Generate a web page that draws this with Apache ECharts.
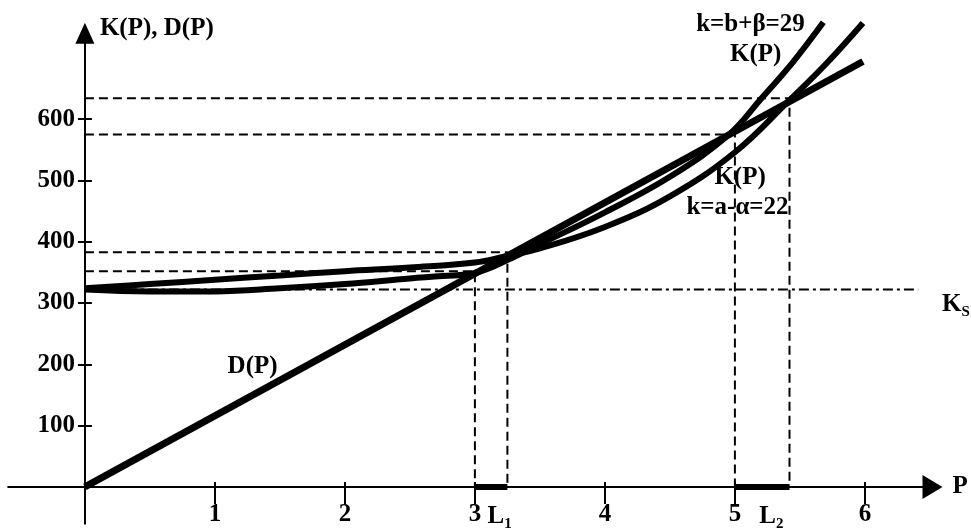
<!DOCTYPE html>
<html>
<head>
<meta charset="utf-8">
<title>K(P), D(P)</title>
<script src="https://cdn.jsdelivr.net/npm/echarts@6.0.0/dist/echarts.min.js"></script>
<style>
  html, body { margin: 0; padding: 0; background: #fff; }
  #chart { width: 971px; height: 529px; }
</style>
</head>
<body>
<div id="chart"></div>
<script>
// ---- data ----
var kTicks = [100, 200, 300, 400, 500, 600];
var pTicks = [1, 2, 3, 4, 5, 6];
var pLabels = [1, 2, 3, 3.19, 4, 5, 5.28, 6];
var subLabels = { '3.19': '1', '5.28': '2' };

// D(P) - straight line from the origin
var dLine = [[0, 0], [5.985, 694]];
// K(P), k=b+beta=29
var k29 = [[0, 322], [0.5, 319], [1.0, 319], [1.5, 324], [2.0, 331], [2.5, 340], [2.75, 344], [3.0, 349],
  [3.25, 370], [3.5, 396], [4.0, 448], [4.5, 506], [4.95, 574], [5.2, 633], [5.45, 694], [5.68, 758]];
// K(P), k=a-alpha=22
var k22 = [[0, 324], [0.5, 331], [1.0, 338], [1.5, 345], [2.0, 352], [2.5, 358], [3.0, 366], [3.25, 377],
  [3.5, 389], [4.0, 424], [4.5, 474], [5.0, 546], [5.42, 631], [5.7, 690], [5.985, 757]];
// Ks level
var ksLine = [[0, 322], [6.41, 322]];
// dashed guides (level -> crossing -> axis)
var guide1 = [[0, 352], [3.0, 352], [3.0, 0]];
var guide2 = [[0, 383], [3.25, 383], [3.25, 0]];
var guide3 = [[0, 575], [5.0, 575], [5.0, 0]];
var guide4 = [[0, 634], [5.42, 634], [5.42, 0]];
// L1, L2 intervals on the P axis
var segL1 = [[3.0, 0], [3.25, 0]];
var segL2 = [[5.0, 0], [5.42, 0]];

// text notes
var notes = [
  { name: 'D(P)', value: [1.29, 197] },
  { name: 'k=b+β=29', value: [5.12, 755] },
  { name: 'K(P)', value: [5.16, 705] },
  { name: 'K(P)', value: [5.04, 505] },
  { name: 'k=a-α=22', value: [5.02, 455] },
  { name: '{a|K}{b|S}', value: [6.70, 297] }
];

var FONT = "'Liberation Serif', 'Times New Roman', serif";
var INK = '#000';

var chart = echarts.init(document.getElementById('chart'));

function curve(name, data, width, smooth) {
  return {
    name: name, type: 'line', data: data, symbol: 'none', showSymbol: false,
    smooth: smooth, clip: false, silent: true, z: 3,
    lineStyle: { color: INK, width: width, cap: 'butt' }
  };
}

function guide(data) {
  return {
    type: 'line', data: data, symbol: 'none', showSymbol: false, clip: false, silent: true, z: 2,
    lineStyle: { color: INK, width: 2, type: [9, 5] }
  };
}

function plain(data, width, z) {
  return {
    type: 'line', data: data, symbol: 'none', showSymbol: false, clip: false, silent: true, z: z,
    lineStyle: { color: INK, width: width }
  };
}

// bare axis line, used for the short stubs past the origin
function stub(gridIndex, position) {
  return {
    type: 'value', gridIndex: gridIndex, position: position, min: 0, max: 1,
    axisLine: { show: true, onZero: false, lineStyle: { color: INK, width: 2 } },
    axisTick: { show: false }, axisLabel: { show: false }, splitLine: { show: false }
  };
}

var textBase = { fontFamily: FONT, fontSize: 25, fontWeight: 'bold', color: INK };
var richSub = {
  a: { fontFamily: FONT, fontSize: 25, fontWeight: 'bold', color: INK, lineHeight: 30 },
  b: { fontFamily: FONT, fontSize: 15, fontWeight: 'bold', color: INK, verticalAlign: 'bottom' }
};

var option = {
  backgroundColor: '#fff',
  animation: false,
  grid: [
    { left: 84.9, right: 38.5, top: 33.35, bottom: 42.1, containLabel: false, outerBoundsMode: 'none' },
    // P axis stub left of the origin
    { left: 8.2, width: 76.7, top: 33.35, bottom: 42.1, containLabel: false, outerBoundsMode: 'none' },
    // K axis stub below the origin
    { left: 84.9, right: 38.5, top: 486.9, height: 36.8, containLabel: false, outerBoundsMode: 'none' }
  ],
  xAxis: [{
    type: 'value', min: 0, max: 6.52, position: 'bottom',
    name: 'P', nameLocation: 'end', nameGap: 20,
    nameTextStyle: textBase,
    axisLine: { onZero: false, symbol: ['none', 'triangle'], symbolSize: [24, 20], lineStyle: { color: INK, width: 2 } },
    axisTick: { show: true, length: 17, customValues: pTicks, lineStyle: { color: INK, width: 2 } },
    axisLabel: {
      show: true, margin: 15, customValues: pLabels,
      fontFamily: FONT, fontSize: 25, fontWeight: 'bold', color: INK,
      formatter: function (v) {
        var key = String(Math.round(v * 100) / 100);
        if (subLabels[key]) return '{a|L}{b|' + subLabels[key] + '}';
        return String(v);
      },
      rich: richSub
    },
    splitLine: { show: false }
  }, {
    // second copy only for the short ticks above the axis line
    type: 'value', min: 0, max: 6.52, position: 'bottom',
    axisLine: { show: false, onZero: false },
    axisTick: { show: true, inside: true, length: 5, customValues: pTicks, lineStyle: { color: INK, width: 2 } },
    axisLabel: { show: false },
    splitLine: { show: false }
  },
    stub(1, 'bottom'),
    { type: 'value', gridIndex: 2, show: false }
  ],
  yAxis: [{
    type: 'value', min: 0, max: 740, position: 'left',
    name: 'K(P), D(P)', nameLocation: 'end', nameGap: 5,
    nameTextStyle: { fontFamily: FONT, fontSize: 25, fontWeight: 'bold', color: INK, align: 'left', verticalAlign: 'middle', padding: [0, 0, 0, 15] },
    axisLine: { onZero: false, symbol: ['none', 'triangle'], symbolSize: [19, 21], lineStyle: { color: INK, width: 2 } },
    axisTick: { show: true, length: 7, customValues: kTicks, lineStyle: { color: INK, width: 2 } },
    axisLabel: { show: true, margin: 10, customValues: kTicks, fontFamily: FONT, fontSize: 25, fontWeight: 'bold', color: INK },
    splitLine: { show: false }
  }, {
    type: 'value', min: 0, max: 740, position: 'left',
    axisLine: { show: false, onZero: false },
    axisTick: { show: true, inside: true, length: 7, customValues: kTicks, lineStyle: { color: INK, width: 2 } },
    axisLabel: { show: false },
    splitLine: { show: false }
  },
    { type: 'value', gridIndex: 1, show: false },
    stub(2, 'left')
  ],
  series: [
    guide(guide1), guide(guide2), guide(guide3), guide(guide4),
    {
      type: 'line', data: ksLine, symbol: 'none', showSymbol: false, clip: false, silent: true, z: 2,
      lineStyle: { color: INK, width: 2, type: [10, 4, 3, 4] }
    },
    curve('D(P)', dLine, 7, false),
    curve('K29', k29, 6, 0.4),
    curve('K22', k22, 6, 0.4),
    plain(segL1, 6, 4),
    plain(segL2, 6, 4),
    {
      // text notes on the plot
      type: 'scatter', data: notes, symbolSize: 1, clip: false, silent: true, z: 5,
      itemStyle: { color: 'rgba(0,0,0,0)', opacity: 1 },
      label: {
        show: true, position: 'inside', formatter: '{b}', opacity: 1,
        textBorderWidth: 0, textShadowBlur: 0,
        fontFamily: FONT, fontSize: 25, fontWeight: 'bold', color: INK,
        rich: richSub
      }
    }
  ]
};

chart.setOption(option);
</script>
</body>
</html>
